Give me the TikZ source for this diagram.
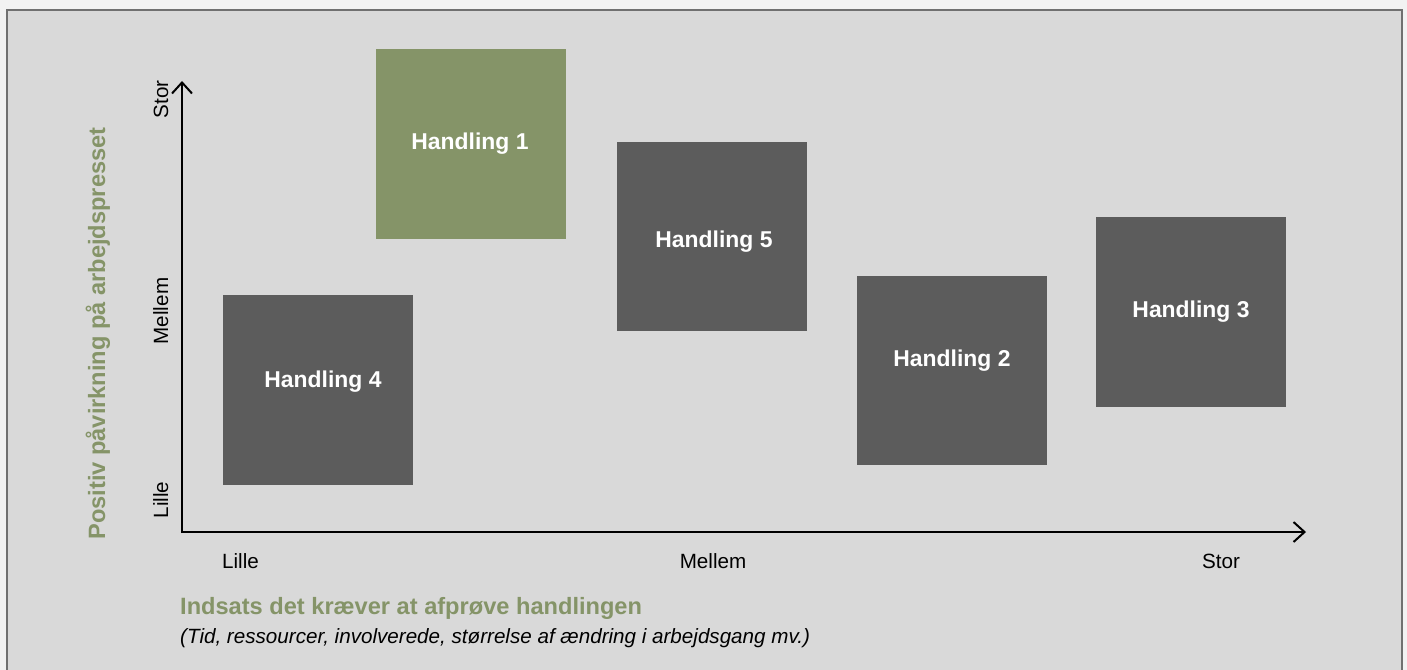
\documentclass[tikz,border=0pt]{standalone}
\usepackage{fontspec}
\setmainfont{Liberation Sans}
\usetikzlibrary{arrows.meta}
\definecolor{outerbg}{HTML}{F2F2F2}
\definecolor{panelbg}{HTML}{D9D9D9}
\definecolor{panelborder}{HTML}{707070}
\definecolor{darkbox}{HTML}{5C5C5C}
\definecolor{greenbox}{HTML}{859468}
\tikzset{
  actbox/.style={fill=darkbox, draw=none},
  greenact/.style={fill=greenbox, draw=none},
  actlabel/.style={anchor=base, text=white, font=\fontsize{23}{27}\selectfont\bfseries, inner sep=0pt},
  ticklabel/.style={anchor=base, text=black, font=\fontsize{20.7}{24}\selectfont, inner sep=0pt},
  vticklabel/.style={ticklabel, rotate=90},
  axistitle/.style={text=greenbox, font=\fontsize{23.7}{28}\selectfont\bfseries, inner sep=0pt},
  axisline/.style={line width=2bp, -{Straight Barb[length=11bp,width=20bp,line width=2bp]}}
}
\begin{document}
\begin{tikzpicture}[x=1bp,y=-1bp]
\useasboundingbox (0,0) rectangle (1407,670);
\fill[outerbg] (0,0) rectangle (1407,670);
\filldraw[fill=panelbg, draw=panelborder, line width=1.5bp] (7,10) rectangle (1402,690);

% boxes
\fill[greenact] (376,49) rectangle (566,239);
\fill[actbox] (223,295) rectangle (413,485);
\fill[actbox] (617,142) rectangle (807,331);
\fill[actbox] (857,276) rectangle (1047,465);
\fill[actbox] (1096,217) rectangle (1286,407);

\node[actlabel] (h1) at (470,149) {Handling 1};
\node[actlabel] (h4) at (323,387) {Handling 4};
\node[actlabel] (h5) at (714,247) {Handling 5};
\node[actlabel] (h2) at (952,366) {Handling 2};
\node[actlabel] (h3) at (1191,317) {Handling 3};

% axes
\coordinate (origin) at (182,532);
\coordinate (ytop) at (182,81);
\coordinate (xend) at (1306,532);
\draw[axisline] ([yshift=-1bp]origin) -- (ytop);
\draw[axisline] ([xshift=-1bp]origin) -- (xend);

% tick labels
\node[vticklabel] (ystor) at (168,99.5) {Stor};
\node[vticklabel] (ymellem) at (168,311) {Mellem};
\node[vticklabel] (ylille) at (168,500) {Lille};
\node[ticklabel] (xlille) at (240.5,568) {Lille};
\node[ticklabel] (xmellem) at (713,568) {Mellem};
\node[ticklabel] (xstor) at (1221,568) {Stor};

% titles
\node[axistitle, rotate=90, anchor=base] (ytitle) at (105,333.5) {Positiv påvirkning på arbejdspresset};
\node[axistitle, anchor=base west] (xtitle) at (180,614) {Indsats det kræver at afprøve handlingen};
\node[anchor=base west, inner sep=0pt, font=\fontsize{20.7}{24}\selectfont\itshape] (xsub) at (180,643) {(Tid, ressourcer, involverede, størrelse af ændring i arbejdsgang mv.)};
\end{tikzpicture}
\end{document}
